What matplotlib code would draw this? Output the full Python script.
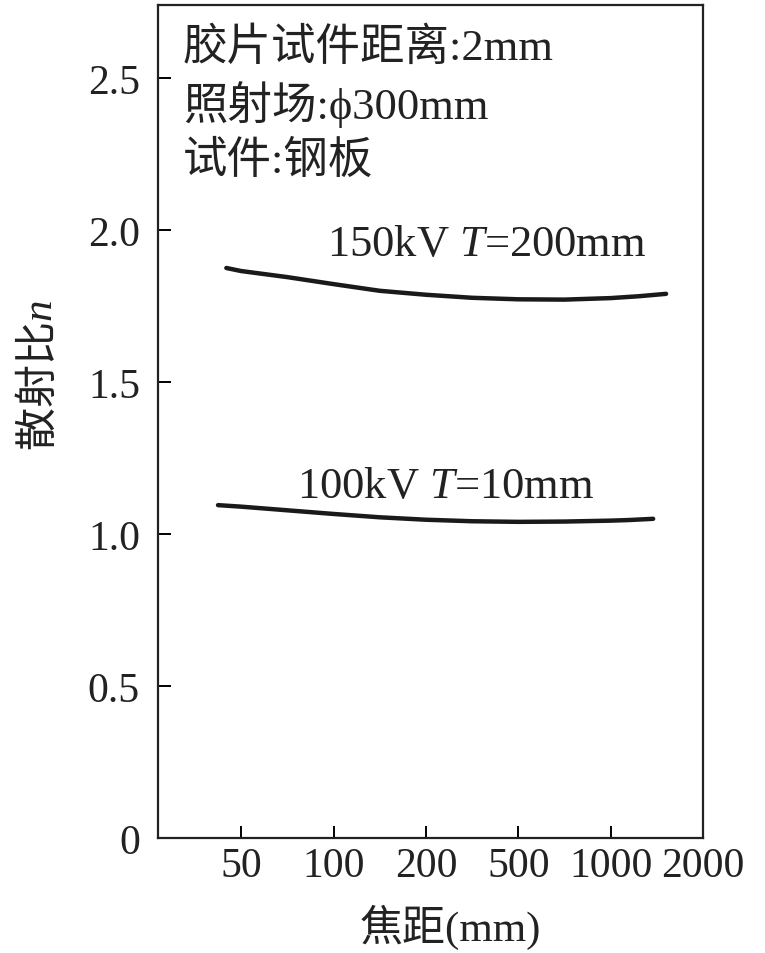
#!/usr/bin/env python3
"""Scatter ratio n vs focal distance for two exposure conditions."""

import matplotlib
matplotlib.use('Agg')
import matplotlib.pyplot as plt

plt.rcParams['mathtext.fontset'] = 'custom'
plt.rcParams['mathtext.it'] = 'Liberation Serif:italic'
plt.rcParams['mathtext.rm'] = 'Liberation Serif'

SERIF_CJK = ['Liberation Serif', 'Noto Sans CJK SC', 'DejaVu Serif']
INK = '#222222'

# focal distance categories (equally spaced on the x axis)
focal_labels = ['50', '100', '200', '500', '1000', '2000']

# curve positions in category units and read-off scatter ratios
kv150_pos = [-0.16, 0, 0.5, 1, 1.5, 2, 2.5, 3, 3.5, 4, 4.3, 4.6]
kv150_n = [1.875, 1.865, 1.845, 1.822, 1.80, 1.787, 1.777, 1.772, 1.771, 1.776, 1.782, 1.79]

kv100_pos = [-0.25, 0, 0.5, 1, 1.5, 2, 2.5, 3, 3.5, 4, 4.2, 4.46]
kv100_n = [1.095, 1.09, 1.078, 1.066, 1.055, 1.047, 1.042, 1.04, 1.041, 1.044, 1.046, 1.05]

y_ticks = [0, 0.5, 1.0, 1.5, 2.0, 2.5]
y_tick_labels = ['0', '0.5', '1.0', '1.5', '2.0', '2.5']


def main() -> None:
    fig = plt.figure(figsize=(7.65, 9.54), dpi=100)
    ax = fig.add_axes([0.2065, 0.1205, 0.7125, 0.8732])

    ax.plot(kv150_pos, kv150_n, color='#1a1a1a', linewidth=3.2, solid_capstyle='round')
    ax.plot(kv100_pos, kv100_n, color='#1a1a1a', linewidth=3.2, solid_capstyle='round')

    ax.set_xlim(-0.9, 5)
    ax.set_ylim(0, 2.74)

    ax.set_xticks(range(len(focal_labels)))
    ax.set_xticklabels(focal_labels, family=SERIF_CJK, fontsize=30, color=INK)
    ax.set_yticks(y_ticks)
    ax.set_yticklabels(y_tick_labels, family=SERIF_CJK, fontsize=30, color=INK)
    ax.tick_params(direction='in', length=9, width=1.4, top=False, right=False)
    ax.tick_params(axis='x', pad=6)
    ax.tick_params(axis='y', pad=13)

    for spine in ax.spines.values():
        spine.set_linewidth(1.6)
        spine.set_color(INK)

    ax.set_xlabel('焦距(mm)', family=SERIF_CJK, fontsize=31, color=INK)
    ax.xaxis.set_label_coords(0.536, -0.079)
    ax.set_ylabel('散射比$n$', family='Noto Sans CJK SC', fontsize=31, color=INK)
    ax.yaxis.set_label_coords(-0.176, 0.556)

    ax.text(-0.63, 2.60, '胶片试件距离:2mm', family=SERIF_CJK, fontsize=32,
            va='center', ha='left', color=INK)
    ax.text(-0.63, 2.415, '照射场:ϕ300mm', family=SERIF_CJK, fontsize=32,
            va='center', ha='left', color=INK)
    ax.text(-0.63, 2.23, '试件:钢板', family=SERIF_CJK, fontsize=32,
            va='center', ha='left', color=INK)

    ax.text(0.93, 1.954, '150kV $T$=200mm', family='Liberation Serif', fontsize=32,
            va='center', ha='left', color=INK)
    ax.text(0.61, 1.158, '100kV $T$=10mm', family='Liberation Serif', fontsize=32,
            va='center', ha='left', color=INK)

    fig.savefig('out.png', dpi=100)
    plt.close(fig)


if __name__ == '__main__':
    main()
